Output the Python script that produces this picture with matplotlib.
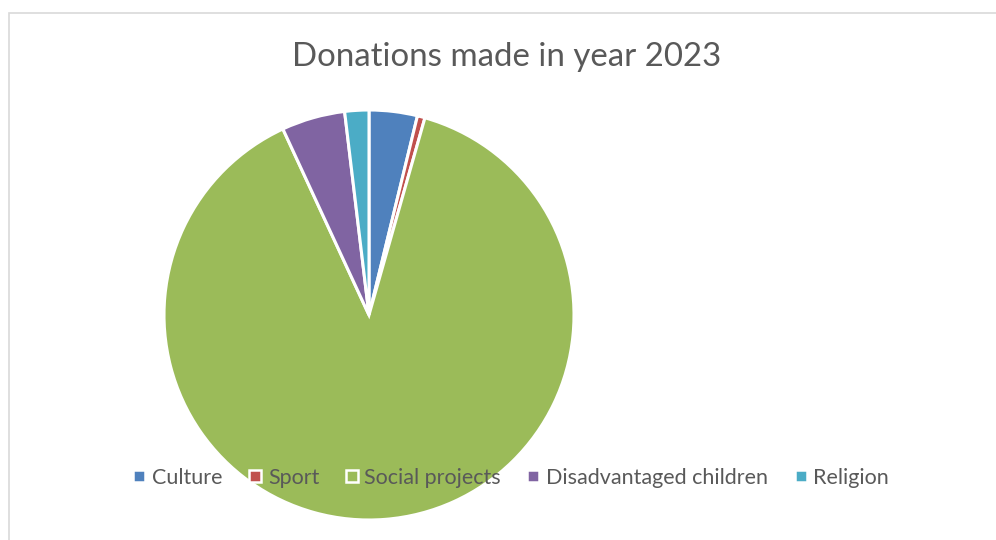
import matplotlib
matplotlib.use("Agg")
import matplotlib.pyplot as plt
from matplotlib.lines import Line2D
from matplotlib.patches import Rectangle

categories = ["Culture", "Sport", "Social projects", "Disadvantaged children", "Religion"]
values = [3.8, 0.6, 88.7, 5.0, 1.9]
colors = ["#4F81BD", "#C0504D", "#9BBB59", "#8064A2", "#4BACC6"]
title = "Donations made in year 2023"

W, H = 996, 540
fig = plt.figure(figsize=(W / 100, H / 100), dpi=100)
fig.patch.set_facecolor("white")

# chart frame
fig.patches.append(Rectangle((8.5 / W, -0.1), 1.2, (H - 12.5) / H + 0.1,
                             transform=fig.transFigure, fill=False,
                             edgecolor="#D9D9D9", linewidth=1.2, zorder=0))

cx, cy, r = 369, 315, 205
ax = fig.add_axes([(cx - r) / W, (H - cy - r) / H, 2 * r / W, 2 * r / H])
ax.pie(values, colors=colors, startangle=90, counterclock=False, radius=1,
       wedgeprops=dict(edgecolor="white", linewidth=2.2))
ax.set_xlim(-1, 1)
ax.set_ylim(-1, 1)
ax.set_aspect("equal")
ax.axis("off")

font = "Lato"
fig.text(507 / W, 1 - 57 / H, title, ha="center", va="center",
         fontsize=23.8, color="#595959", family=font)

handles = [Line2D([], [], marker="s", linestyle="", markersize=8.5,
                  markerfacecolor=c, markeredgecolor="white", markeredgewidth=1.8)
           for c in colors]
leg = fig.legend(handles, categories, loc="center", bbox_to_anchor=(511 / W, 1 - 478 / H),
                 ncol=5, frameon=False, handlelength=0.6, handletextpad=0.3,
                 columnspacing=1.2, prop=dict(family=font, size=15.5))
for t in leg.get_texts():
    t.set_color("#595959")

fig.savefig("out.png", dpi=100)
